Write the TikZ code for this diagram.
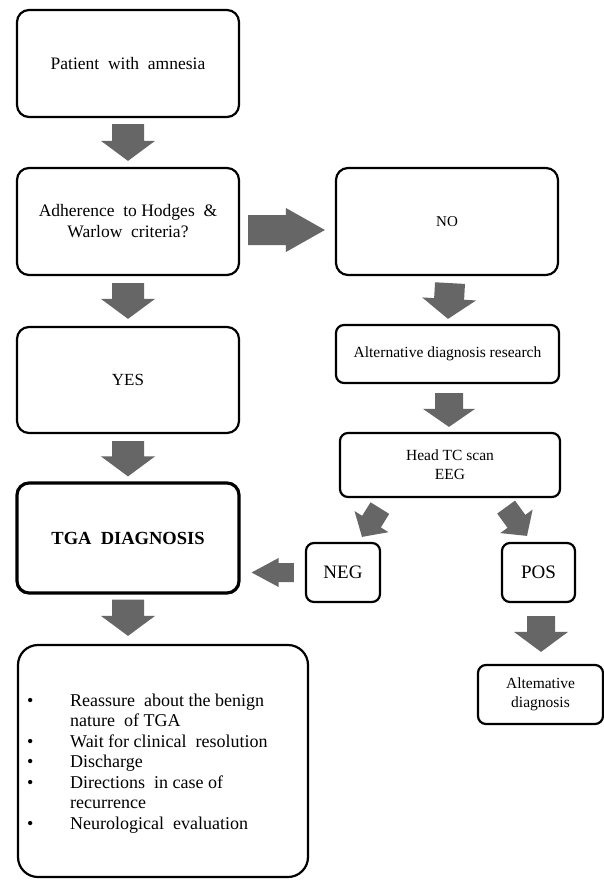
\documentclass[tikz,border=0pt]{standalone}
\usepackage{fontspec}
\setmainfont{Liberation Serif}
\usetikzlibrary{calc}
\definecolor{arrowfill}{RGB}{102,102,102}
\newcommand\barrow[5]{%
  \coordinate (ba s) at #1;
  \coordinate (ba e) at #2;
  \coordinate (ba n) at ($(ba e)!#5!(ba s)$);
  \fill[arrowfill] ($(ba s)!#3!90:(ba e)$) -- ($(ba n)!#3!90:(ba e)$) -- ($(ba n)!#4!90:(ba e)$) -- (ba e) -- ($(ba n)!#4!-90:(ba e)$) -- ($(ba n)!#3!-90:(ba e)$) -- ($(ba s)!#3!-90:(ba e)$) -- cycle;}
\begin{document}
\begin{tikzpicture}[x=1pt,y=1pt,
  box/.style={draw, line width=2.2pt, rounded corners=12pt, align=center, inner sep=0pt, fill=white},
  smallbox/.style={box, rounded corners=8pt}]
\useasboundingbox (0,0) rectangle (604,-880);
\fill[white] (0,0) rectangle (604,-880);
% boxes
\node[box, minimum width=222pt, minimum height=107pt, font=\fontsize{17.5}{21}\selectfont] (patient) at (128,-63.5) {Patient\ \ with\ \ amnesia};
\node[box, minimum width=222pt, minimum height=107pt, font=\fontsize{17.5}{21}\selectfont] (adh) at (128,-221.5) {Adherence\ \ to\ Hodges\ \ \&\\Warlow\ \ criteria?};
\node[box, minimum width=222pt, minimum height=107pt, font=\fontsize{15}{18}\selectfont] (no) at (447,-221.5) {NO};
\node[box, minimum width=222pt, minimum height=106pt, font=\fontsize{17}{20}\selectfont] (yes) at (128,-380) {YES};
\node[box, minimum width=222pt, minimum height=110pt, line width=3.2pt, font=\fontsize{18.5}{22}\selectfont\bfseries] (tga) at (128,-538) {TGA\ \ DIAGNOSIS};
\node[smallbox, minimum width=223pt, minimum height=58pt, font=\fontsize{15.5}{18}\selectfont] (altres) at (447.5,-354) {Alternative diagnosis research};
\node[smallbox, minimum width=220pt, minimum height=64pt, font=\fontsize{15.5}{19}\selectfont] (head) at (450,-465) {Head TC scan\\EEG};
\node[smallbox, minimum width=74pt, minimum height=59pt, font=\fontsize{19}{22}\selectfont] (neg) at (343,-572.5) {NEG};
\node[smallbox, minimum width=73pt, minimum height=59pt, font=\fontsize{19}{22}\selectfont] (pos) at (538.5,-572.5) {POS};
\node[smallbox, minimum width=125pt, minimum height=59pt, font=\fontsize{15.5}{19}\selectfont] (altdiag) at (540.5,-694.5) {Altemative\\diagnosis};
\node[box, minimum width=290pt, minimum height=232pt, rounded corners=20pt] (final) at (163,-761) {};
\node[anchor=west, inner sep=0pt, font=\fontsize{18}{20.5}\selectfont] (list) at (27,-763.5) {%
  \begin{tabular}{@{}p{43pt}@{}l@{}}
  \textbullet & Reassure\ \ about the benign\\
   & nature\ \ of TGA\\
  \textbullet & Wait for clinical\ \ resolution\\
  \textbullet & Discharge\\
  \textbullet & Directions\ \ in case of\\
   & recurrence\\
  \textbullet & Neurological\ \ evaluation
  \end{tabular}};
% block arrows
\barrow{($(patient.south)+(0,-6)$)}{($(adh.north)+(0,6)$)}{16pt}{27pt}{20pt}
\barrow{($(adh.south)+(0,-7)$)}{($(yes.north)+(0,7)$)}{16pt}{27pt}{20pt}
\barrow{($(yes.south)+(0,-7)$)}{($(tga.north)+(0,5)$)}{16pt}{27pt}{20pt}
\barrow{($(tga.south)+(0,-5)$)}{($(tga.south |- final.north)+(0,8)$)}{16pt}{27pt}{20pt}
\barrow{($(adh.east)+(8,-8.5)$)}{($(no.west)+(-10,-8.5)$)}{15pt}{22pt}{39pt}
\barrow{($(no.south)+(3,-7)$)}{($(altres.north)+(0.5,5)$)}{15pt}{27pt}{20pt}
\barrow{($(altres.south)+(1.5,-9)$)}{($(head.north)+(-1,5)$)}{14pt}{26pt}{18pt}
\barrow{($(head.south west)+(41,-10)$)}{($(neg.north)+(19,5)$)}{11pt}{20pt}{18pt}
\barrow{($(head.south east)+(-55,-9)$)}{($(pos.north)+(-11.5,6)$)}{11pt}{20pt}{18pt}
\barrow{($(neg.west)+(-11,0)$)}{($(tga.east |- neg.west)+(11,0)$)}{9.5pt}{14.5pt}{27pt}
\barrow{($(pos.south)+(2.5,-13)$)}{($(altdiag.north)+(0.5,12)$)}{14pt}{27pt}{20pt}
\end{tikzpicture}
\end{document}
